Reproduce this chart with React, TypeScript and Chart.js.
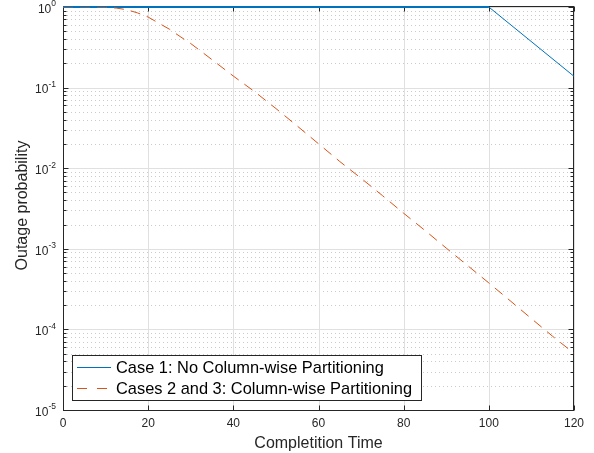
import React, { useEffect, useRef } from "react";
import { Chart, registerables } from "chart.js";

Chart.register(...registerables);

// ---- data ----
const case1Time = [0, 100, 120];
const case1Prob = [1, 1, 0.138];

const case23Time = [0, 5, 10, 12.5, 15, 17.5, 20, 22.5, 25, 27.5, 30, 35, 40, 45, 50, 55, 60, 65, 70, 75, 80, 85, 90, 95, 100, 105, 110, 115, 120];
const case23Prob = [1, 1, 0.995, 0.97, 0.925, 0.845, 0.75, 0.63, 0.53, 0.43, 0.352, 0.222, 0.139, 0.089, 0.055, 0.0334, 0.0201, 0.0121, 0.0075, 0.00458, 0.00276, 0.00169, 0.00102, 0.00062, 0.000377, 0.000227, 0.000136, 0.000082, 0.0000505];

const seriesLabels = ["Case 1: No Column-wise Partitioning", "Cases 2 and 3: Column-wise Partitioning"];
const xTickValues = [0, 20, 40, 60, 80, 100, 120];
const yDecadeExponents = [-5, -4, -3, -2, -1, 0];
const minorMultipliers = [2, 3, 4, 5, 6, 7, 8, 9];
const xAxisTitle = "Completition Time";
const yAxisTitle = "Outage probability";

const FONT = "'Liberation Sans', Arial, Helvetica, sans-serif";
const TEXT = "#262626";

const matlabPlugin = {
  id: "matlabAxes",
  beforeDraw(chart: any) {
    const { ctx, width, height } = chart;
    ctx.save();
    ctx.fillStyle = "#ffffff";
    ctx.fillRect(0, 0, width, height);
    ctx.restore();
  },
  beforeDatasetsDraw(chart: any) {
    const { ctx, chartArea: a } = chart;
    const xs = chart.scales.x;
    const ys = chart.scales.y;
    const L = a.left, R = a.right, T = a.top, B = a.bottom;
    ctx.save();
    ctx.lineWidth = 1;
    // minor dotted grid
    ctx.strokeStyle = "rgba(38,38,38,0.24)";
    ctx.setLineDash([1, 3]);
    for (const e of yDecadeExponents) {
      if (e >= 0) continue;
      for (const m of minorMultipliers) {
        const py = Math.round(ys.getPixelForValue(m * Math.pow(10, e))) + 0.5;
        ctx.beginPath();
        ctx.moveTo(L, py);
        ctx.lineTo(R, py);
        ctx.stroke();
      }
    }
    // major grid
    ctx.setLineDash([]);
    ctx.strokeStyle = "#e0e0e0";
    for (const v of xTickValues) {
      const px = Math.round(xs.getPixelForValue(v)) + 0.5;
      ctx.beginPath();
      ctx.moveTo(px, T);
      ctx.lineTo(px, B);
      ctx.stroke();
    }
    for (const e of yDecadeExponents) {
      const py = Math.round(ys.getPixelForValue(Math.pow(10, e))) + 0.5;
      ctx.beginPath();
      ctx.moveTo(L, py);
      ctx.lineTo(R, py);
      ctx.stroke();
    }
    // box
    ctx.strokeStyle = TEXT;
    const l = Math.round(L) + 0.5, r = Math.round(R) - 0.5, t = Math.round(T) - 0.5, b = Math.round(B) + 0.5;
    ctx.strokeRect(l, t, r - l, b - t);
    // ticks inside
    ctx.beginPath();
    for (const v of xTickValues) {
      const px = Math.round(xs.getPixelForValue(v)) + 0.5;
      ctx.moveTo(px, b);
      ctx.lineTo(px, b - 5);
      ctx.moveTo(px, t);
      ctx.lineTo(px, t + 5);
    }
    for (const e of yDecadeExponents) {
      const py = Math.round(ys.getPixelForValue(Math.pow(10, e))) + 0.5;
      ctx.moveTo(l, py);
      ctx.lineTo(l + 5, py);
      ctx.moveTo(r, py);
      ctx.lineTo(r - 5, py);
      if (e < 0) {
        for (const m of minorMultipliers) {
          const pm = Math.round(ys.getPixelForValue(m * Math.pow(10, e))) + 0.5;
          ctx.moveTo(l, pm);
          ctx.lineTo(l + 3, pm);
          ctx.moveTo(r, pm);
          ctx.lineTo(r - 3, pm);
        }
      }
    }
    ctx.stroke();
    ctx.restore();
  },
  afterDatasetsDraw(chart: any) {
    const { ctx, chartArea: a } = chart;
    const xs = chart.scales.x;
    const ys = chart.scales.y;
    ctx.save();
    ctx.fillStyle = TEXT;
    // x tick labels
    ctx.font = `12px ${FONT}`;
    ctx.textAlign = "center";
    ctx.textBaseline = "middle";
    for (const v of xTickValues) {
      ctx.fillText(String(v), xs.getPixelForValue(v), a.bottom + 13.5);
    }
    // y tick labels with superscripts
    for (const e of yDecadeExponents) {
      const py = ys.getPixelForValue(Math.pow(10, e));
      const sup = e < 0 ? "-" + Math.abs(e) : String(e);
      ctx.font = `8.5px ${FONT}`;
      const ws = ctx.measureText(sup).width;
      ctx.font = `12px ${FONT}`;
      const wb = ctx.measureText("10").width;
      const right = a.left - 7;
      ctx.textAlign = "left";
      ctx.textBaseline = "middle";
      ctx.fillText("10", right - ws - wb, py + 2.5);
      ctx.font = `8.5px ${FONT}`;
      ctx.fillText(sup, right - ws, py - 3);
    }
    // axis titles
    ctx.font = `16px ${FONT}`;
    ctx.textAlign = "center";
    ctx.textBaseline = "alphabetic";
    ctx.fillText(xAxisTitle, (a.left + a.right) / 2, 448);
    ctx.save();
    ctx.translate(27, (a.top + a.bottom) / 2 - 3);
    ctx.rotate(-Math.PI / 2);
    ctx.fillText(yAxisTitle, 0, 0);
    ctx.restore();
    // legend box
    const bx = 72.5, by = 355.5, bw = 349, bh = 45;
    ctx.fillStyle = "#ffffff";
    ctx.fillRect(bx, by, bw, bh);
    ctx.strokeStyle = TEXT;
    ctx.lineWidth = 1;
    ctx.strokeRect(bx, by, bw, bh);
    const rows = [367.5, 388.5];
    chart.data.datasets.forEach((ds: any, i: number) => {
      const yy = rows[i];
      ctx.strokeStyle = ds.borderColor;
      ctx.lineWidth = 1;
      ctx.setLineDash(i === 1 ? [10, 10] : []);
      ctx.beginPath();
      ctx.moveTo(77, yy);
      ctx.lineTo(111, yy);
      ctx.stroke();
      ctx.setLineDash([]);
      ctx.fillStyle = "#000000";
      ctx.font = `16.4px ${FONT}`;
      ctx.textAlign = "left";
      ctx.textBaseline = "middle";
      ctx.fillText(ds.label, 116, yy + 1);
    });
    ctx.restore();
  },
};

export default function App() {
  const canvasRef = useRef<HTMLCanvasElement | null>(null);
  useEffect(() => {
    const canvas = canvasRef.current;
    if (!canvas) return;
    const chart = new Chart(canvas, {
      type: "line",
      data: {
        datasets: [
          {
            label: seriesLabels[0],
            data: case1Time.map((t, i) => ({ x: t, y: case1Prob[i] })),
            borderColor: "#0072BD",
            borderWidth: 1,
            pointRadius: 0,
            fill: false,
            tension: 0,
            clip: false,
            segment: {
              borderWidth: (c: any) => (c.p0.parsed.y === c.p1.parsed.y ? 2 : 1),
            },
            order: 1,
          },
          {
            label: seriesLabels[1],
            data: case23Time.map((t, i) => ({ x: t, y: case23Prob[i] })),
            borderColor: "#D95319",
            borderWidth: 1,
            borderDash: [10, 7],
            pointRadius: 0,
            fill: false,
            tension: 0,
            order: 0,
          },
        ],
      },
      options: {
        animation: false,
        responsive: false,
        events: [],
        layout: { padding: { left: 63, right: 20, top: 7, bottom: 43 } },
        scales: {
          x: { type: "linear", min: 0, max: 120, display: false },
          y: { type: "logarithmic", min: 1e-5, max: 1, display: false },
        },
        plugins: {
          legend: { display: false },
          tooltip: { enabled: false },
        },
      },
      plugins: [matlabPlugin],
    });
    return () => chart.destroy();
  }, []);
  return (
    <div style={{ position: "absolute", left: 0, top: 0, width: 594, height: 453 }}>
      <canvas ref={canvasRef} width={594} height={453} style={{ display: "block" }} />
    </div>
  );
}
